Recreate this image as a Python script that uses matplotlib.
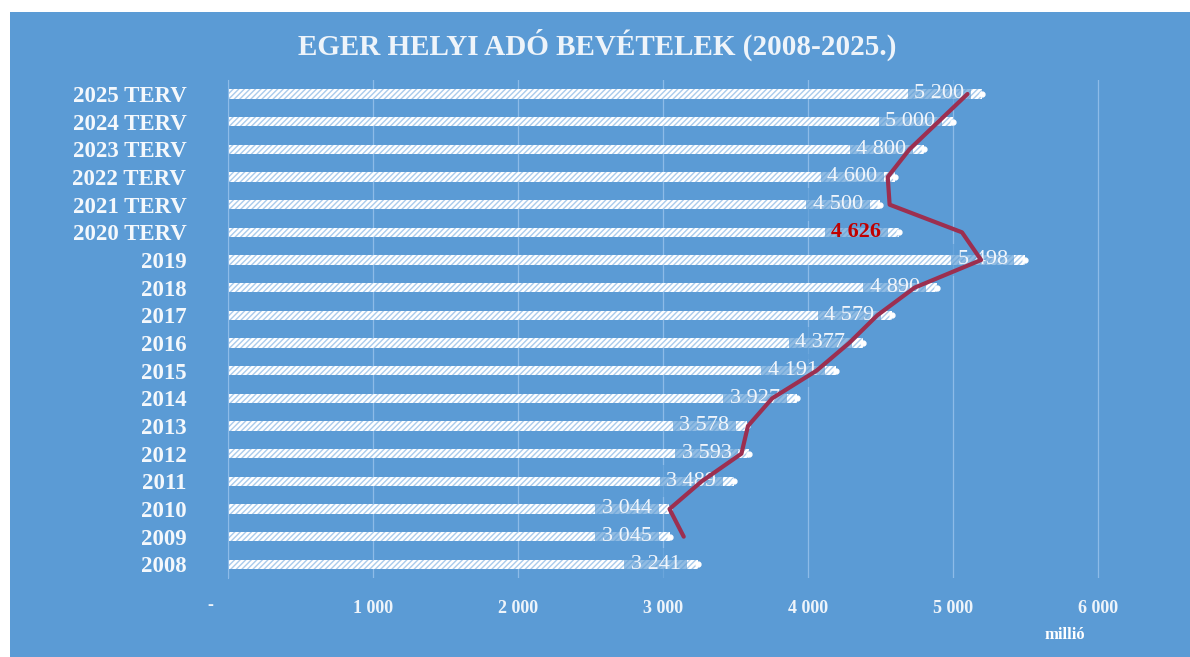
import numpy as np
import matplotlib.pyplot as plt
from matplotlib.patches import Rectangle

# adatok (millió Ft)
years = ["2008", "2009", "2010", "2011", "2012", "2013", "2014", "2015", "2016",
         "2017", "2018", "2019", "2020 TERV", "2021 TERV", "2022 TERV",
         "2023 TERV", "2024 TERV", "2025 TERV"]
values = [3241, 3045, 3044, 3489, 3593, 3578, 3927, 4191, 4377,
          4579, 4890, 5498, 4626, 4500, 4600, 4800, 5000, 5200]
# trendvonal (2009-2025), leolvasva
trend = [3143, 3045, 3267, 3541, 3586, 3753, 4059, 4284, 4478,
         4735, 5194, 5062, 4563, 4550, 4700, 4900, 5100]
xticks = [0, 1000, 2000, 3000, 4000, 5000, 6000]
xticklabels = ["", "1 000", "2 000", "3 000", "4 000", "5 000", "6 000"]

blue = "#5b9bd5"
serif = ["Liberation Serif", "DejaVu Serif"]

fig = plt.figure(figsize=(11.9, 6.57), dpi=100, facecolor="white")
fig.patches.append(Rectangle((10 / 1190, 0), 1180 / 1190, 645 / 657,
                             transform=fig.transFigure, facecolor=blue,
                             edgecolor="none", zorder=-10))

ax = fig.add_axes([228 / 1190, 0.120, 0.792, 0.758])
ax.set_facecolor("none")
plt.rcParams["hatch.linewidth"] = 1.0

y = np.arange(len(years))
ax.barh(y, values, height=0.33, color="white", edgecolor="#a9cbec",
        hatch="//////", linewidth=0, zorder=2)

# adatcímkék
for i, v in enumerate(values):
    lab = f"{v:,}".replace(",", " ")
    red = years[i] == "2020 TERV"
    ax.text(v - 120, i, lab, ha="right", va="center", fontsize=16,
            color="#c00000" if red else "#f0f5fb",
            fontweight="bold" if red else "normal",
            family=serif, zorder=4,
            bbox=dict(boxstyle="square,pad=0.3", facecolor=blue,
                      edgecolor="none", alpha=0.68))
    ax.plot(v, i, "o", color="white", markersize=3.5, zorder=5)

ax.plot(trend, y[1:], color="#9c2f50", lw=3, zorder=6, solid_capstyle="round")

ax.set_xlim(0, 6500)
ax.set_ylim(-0.5, len(years) - 0.5)
ax.set_xticks(xticks)
ax.set_xticklabels(xticklabels, family=serif, fontsize=13,
                   fontweight="bold", color="#eef4fa")
ax.set_yticks(y)
ax.set_yticklabels(years, family=serif, fontsize=16.5, fontweight="bold",
                   color="#f4f8fc")
ax.tick_params(axis="x", length=0, pad=16)
ax.tick_params(axis="y", length=0, pad=30)
ax.grid(axis="x", color="#8dbbe8", lw=0.9, zorder=0)
for s in ["top", "right", "bottom"]:
    ax.spines[s].set_visible(False)
ax.spines["left"].set_color("#8dbbe8")

# nulla helyén "-" (könyvelési formátum), kicsit balra
fig.text(210 / 1190, 1 - 606 / 657, "-", ha="center", va="center",
         fontsize=13, fontweight="bold", color="#eef4fa", family=serif)

fig.text(597 / 1190, 1 - 45 / 657, "EGER HELYI ADÓ BEVÉTELEK (2008-2025.)",
         ha="center", va="center", fontsize=21, fontweight="bold",
         color="#eef4fa", family=serif)
fig.text(1065 / 1190, 1 - 635 / 657, "millió", ha="center", va="center",
         fontsize=12, fontweight="bold", color="white", family=serif)

plt.savefig("out.png", dpi=100, facecolor="white")
